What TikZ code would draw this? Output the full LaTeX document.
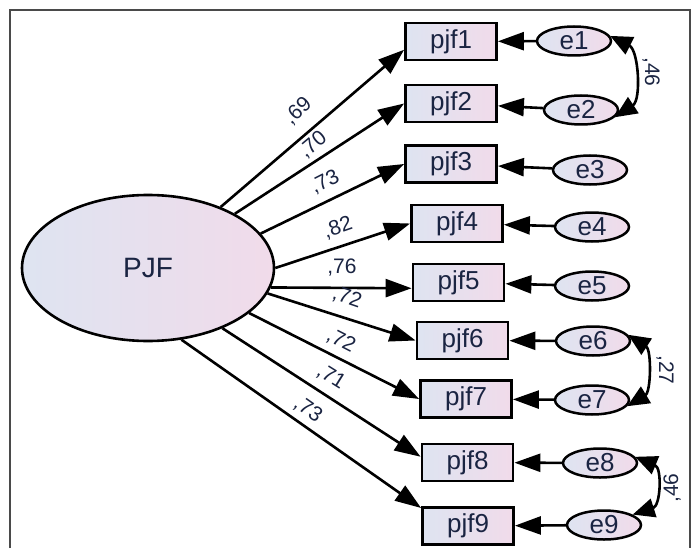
\documentclass[tikz,border=0pt]{standalone}
\usepackage{fontspec}
\setmainfont{Liberation Sans}
\usetikzlibrary{arrows.meta,shapes.geometric}
\definecolor{ink}{HTML}{1A2442}
\definecolor{fillL}{HTML}{DEE4F1}
\definecolor{fillR}{HTML}{F1DBEA}
\definecolor{framegray}{HTML}{4A4A4A}
\tikzset{
  obs/.style={draw=black, line width=2.8pt, rectangle, minimum width=91pt,
    minimum height=37pt, inner sep=0pt, left color=fillL, right color=fillR,
    text=ink, font=\fontsize{26}{30}\selectfont},
  err/.style={draw=black, line width=2.5pt, ellipse, minimum width=74pt,
    minimum height=29pt, inner sep=0pt, left color=fillL, right color=fillR,
    text=ink, font=\fontsize{26}{30}\selectfont},
  lat/.style={draw=black, line width=2.6pt, ellipse, minimum width=252pt,
    minimum height=146pt, inner sep=0pt, left color=fillL, right color=fillR,
    text=ink, font=\fontsize{28}{32}\selectfont},
  regpath/.style={line width=2.6pt, -{Triangle[length=26pt,width=18pt]}},
  covpath/.style={line width=2.6pt,
    {Triangle[length=22pt,width=19pt]}-{Triangle[length=22pt,width=19pt]}},
  coef/.style={text=ink, font=\fontsize{21}{24}\selectfont, inner sep=0pt},
}
\begin{document}
\begin{tikzpicture}[x=1pt,y=1pt]
  \useasboundingbox (0,0) rectangle (695,-548);
  % outer frame
  \draw[framegray, line width=2pt] (10,-548) -- (10,-10) -- (690,-10) -- (690,-548);

  % latent factor
  \node[lat] (PJF) at (148,-268) {PJF};

  % indicators
  \node[obs] (pjf1) at (451,-41.5) {pjf1};
  \node[obs] (pjf2) at (451,-103.5) {pjf2};
  \node[obs] (pjf3) at (451,-164) {pjf3};
  \node[obs] (pjf4) at (457,-223.5) {pjf4};
  \node[obs] (pjf5) at (458.5,-282.5) {pjf5};
  \node[obs] (pjf6) at (462.5,-340.5) {pjf6};
  \node[obs] (pjf7) at (466,-399) {pjf7};
  \node[obs] (pjf8) at (467.5,-462.5) {pjf8};
  \node[obs] (pjf9) at (468,-526) {pjf9};

  % error terms
  \node[err] (e1) at (574,-41) {e1};
  \node[err] (e2) at (581,-110) {e2};
  \node[err] (e3) at (590,-170) {e3};
  \node[err] (e4) at (592,-227) {e4};
  \node[err] (e5) at (592,-286) {e5};
  \node[err] (e6) at (593,-341) {e6};
  \node[err] (e7) at (592,-400) {e7};
  \node[err] (e8) at (600,-463) {e8};
  \node[err] (e9) at (604,-525) {e9};

  % loadings
  \draw[regpath] (PJF.40)  -- (pjf1.190);
  \draw[regpath] (PJF.32)  -- (pjf2.west);
  \draw[regpath] (PJF.17)  -- (pjf3.west);
  \draw[regpath] (PJF.0)   -- (pjf4.west);
  \draw[regpath] (PJF.-9)  -- (pjf5.187);
  \draw[regpath] (PJF.-12) -- (pjf6.west);
  \draw[regpath] (PJF.-24) -- (pjf7.west);
  \draw[regpath] (PJF.-39) -- (pjf8.173);
  \draw[regpath] (PJF.-65) -- (pjf9.159);

  % error paths
  \foreach \i in {1,...,9} {
    \draw[regpath] (e\i) -- (pjf\i);
  }

  % error covariances
  \draw[covpath] (e1.8)  to[bend left=60] (e2.-12);
  \draw[covpath] (e6.10) to[bend left=58] (e7.-10);
  \draw[covpath] (e8.10) to[bend left=70, looseness=1.3] (e9.20);

  % loading estimates
  \node[coef, rotate=42]  (c1) at (298,-111) {,69};
  \node[coef, rotate=40]  (c2) at (313,-145) {,70};
  \node[coef, rotate=27]  (c3) at (325,-182) {,73};
  \node[coef, rotate=19]  (c4) at (338,-228) {,82};
  \node[coef]             (c5) at (342,-268) {,76};
  \node[coef, rotate=-19] (c6) at (347,-298) {,72};
  \node[coef, rotate=-27] (c7) at (341,-341) {,72};
  \node[coef, rotate=-32] (c8) at (331,-377) {,71};
  \node[coef, rotate=-35] (c9) at (308,-410) {,73};

  % covariance estimates
  \node[coef, rotate=-90] (r12) at (651,-72)  {,46};
  \node[coef, rotate=-90] (r67) at (665,-370) {,27};
  \node[coef, rotate=90]  (r89) at (672,-488) {,46};
\end{tikzpicture}
\end{document}
